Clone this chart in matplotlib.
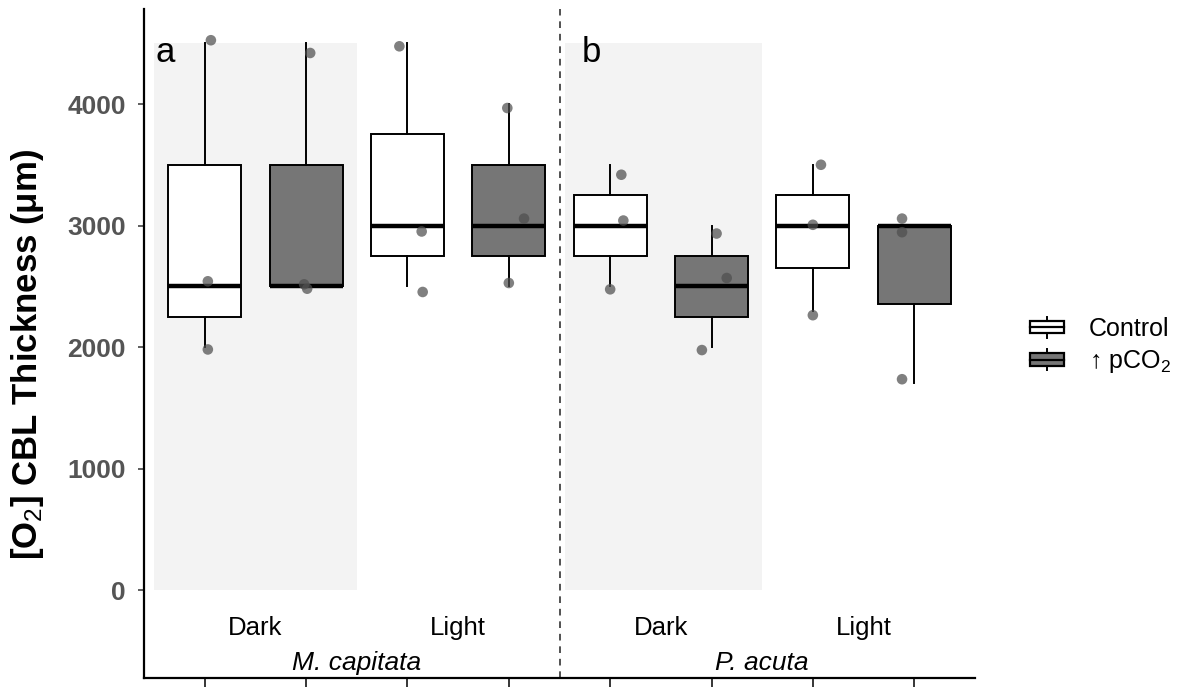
import matplotlib
matplotlib.use("Agg")
import matplotlib.pyplot as plt
from matplotlib.legend_handler import HandlerBase
from matplotlib.patches import Rectangle, Patch
from matplotlib.lines import Line2D

plt.rcParams["font.family"] = ["Liberation Sans", "DejaVu Sans"]
plt.rcParams["mathtext.fontset"] = "custom"
plt.rcParams["mathtext.rm"] = "Liberation Sans"
plt.rcParams["mathtext.it"] = "Liberation Sans:italic"
plt.rcParams["mathtext.bf"] = "Liberation Sans:bold"

# groups, in plotting order: species x light
species = ["M. capitata", "P. acuta"]
light = ["Dark", "Light", "Dark", "Light"]
treatments = ["Control", "\u2191 pCO$_2$"]

# CBL thickness (um), three replicates per group
control_vals = [[2000, 2500, 4500], [2500, 3000, 4500],
                [2500, 3000, 3500], [2300, 3000, 3500]]
pco2_vals = [[2500, 2500, 4500], [2500, 3000, 4000],
             [2000, 2500, 3000], [1700, 3000, 3000]]

# jittered points as drawn over the boxes
control_pts = [[4525, 2541, 1980], [4475, 2951, 2453],
               [3418, 3041, 2475], [3500, 3006, 2262]]
pco2_pts = [[4420, 2516, 2480], [3967, 3057, 2527],
            [2934, 2568, 1975], [3057, 2945, 1735]]
control_dx = [[0.06, 0.03, 0.03], [-0.08, 0.14, 0.15],
              [0.11, 0.13, 0.0], [0.08, 0.0, 0.0]]
pco2_dx = [[0.04, -0.02, 0.01], [-0.015, 0.15, 0.0],
           [0.05, 0.15, -0.095], [-0.12, -0.12, -0.12]]

fills = ["white", "#767676"]


class BoxKeyHandler(HandlerBase):
    # ggplot-style boxplot legend key
    def create_artists(self, legend, orig_handle, xdescent, ydescent,
                       width, height, fontsize, trans):
        x0, y0 = -xdescent, -ydescent
        bh = height * 0.6
        by = y0 + (height - bh) / 2
        xc = x0 + width / 2
        box = Rectangle((x0, by), width, bh, facecolor=orig_handle.get_facecolor(),
                        edgecolor="black", lw=1.6, transform=trans)
        mid = Line2D([x0, x0 + width], [y0 + height / 2] * 2, color="black",
                     lw=1.6, transform=trans)
        top = Line2D([xc, xc], [by + bh, y0 + height], color="black",
                     lw=1.4, transform=trans)
        bot = Line2D([xc, xc], [y0, by], color="black", lw=1.4, transform=trans)
        return [box, mid, top, bot]


fig = plt.figure(figsize=(11.89, 6.87), dpi=100)
ax = fig.add_axes([144 / 1189, 9 / 687, 831 / 1189, 669 / 687])

# shaded dark panels
ax.add_patch(Rectangle((0.5, 0), 2.0, 4500, facecolor="#f3f3f3", edgecolor="none", zorder=0))
ax.add_patch(Rectangle((4.55, 0), 1.95, 4500, facecolor="#f3f3f3", edgecolor="none", zorder=0))

ctrl_pos = [1, 3, 5, 7]
pco2_pos = [2, 4, 6, 8]
for vals, pos, fc in [(control_vals, ctrl_pos, fills[0]), (pco2_vals, pco2_pos, fills[1])]:
    ax.boxplot(vals, positions=pos, widths=0.72, patch_artist=True,
               showcaps=False, showfliers=False, manage_ticks=False,
               boxprops=dict(facecolor=fc, edgecolor="black", linewidth=1.4),
               whiskerprops=dict(color="black", linewidth=1.4),
               medianprops=dict(color="black", linewidth=3.2),
               zorder=2)

for pts, dxs, pos in [(control_pts, control_dx, ctrl_pos), (pco2_pts, pco2_dx, pco2_pos)]:
    for p, ys, dx in zip(pos, pts, dxs):
        ax.scatter([p + d for d in dx], ys, s=58, color="#4f4f4f", alpha=0.72,
                   edgecolors="none", zorder=3)

ax.axvline(4.5, color="#333333", lw=1.2, ls=(0, (4, 3.5)), zorder=1)

# panel letters
ax.text(0.51, 4560, "a", fontsize=25, va="top", ha="left")
ax.text(4.72, 4560, "b", fontsize=25, va="top", ha="left")

# light and species labels under the boxes
for i, lab in enumerate(light):
    ax.text(1.5 + 2 * i, -370, lab, fontsize=18.5, ha="center", va="baseline")
for i, sp in enumerate(species):
    ax.text(2.5 + 4 * i, -660, sp, fontsize=19, style="italic",
            ha="center", va="baseline")

ax.set_xlim(0.4, 8.6)
ax.set_ylim(-724, 4782)
ax.set_xticks(range(1, 9))
ax.set_xticklabels([])
ax.set_yticks([0, 1000, 2000, 3000, 4000])
ax.tick_params(axis="y", labelsize=19, labelcolor="#555555", length=4, pad=9,
               color="#333333", width=1.1)
ax.tick_params(axis="x", length=8, color="black", width=1.1)
for lab in ax.get_yticklabels():
    lab.set_fontweight("bold")

for s in ["top", "right"]:
    ax.spines[s].set_visible(False)
for s in ["left", "bottom"]:
    ax.spines[s].set_linewidth(1.6)

ax.set_ylabel("[O$_2$] CBL Thickness (\u03bcm)", fontsize=25, fontweight="bold")
ax.yaxis.set_label_coords(-0.118, 0.483)

handles = [Patch(facecolor=f) for f in fills]
fig.legend(handles, treatments, handler_map={Patch: BoxKeyHandler()},
           loc="center left", bbox_to_anchor=(1030 / 1189, 1 - 346 / 687),
           frameon=False, fontsize=18, handlelength=1.36, handleheight=0.9,
           handletextpad=1.0, labelspacing=0.3, borderpad=0, borderaxespad=0)

fig.savefig("out.png", dpi=100)
